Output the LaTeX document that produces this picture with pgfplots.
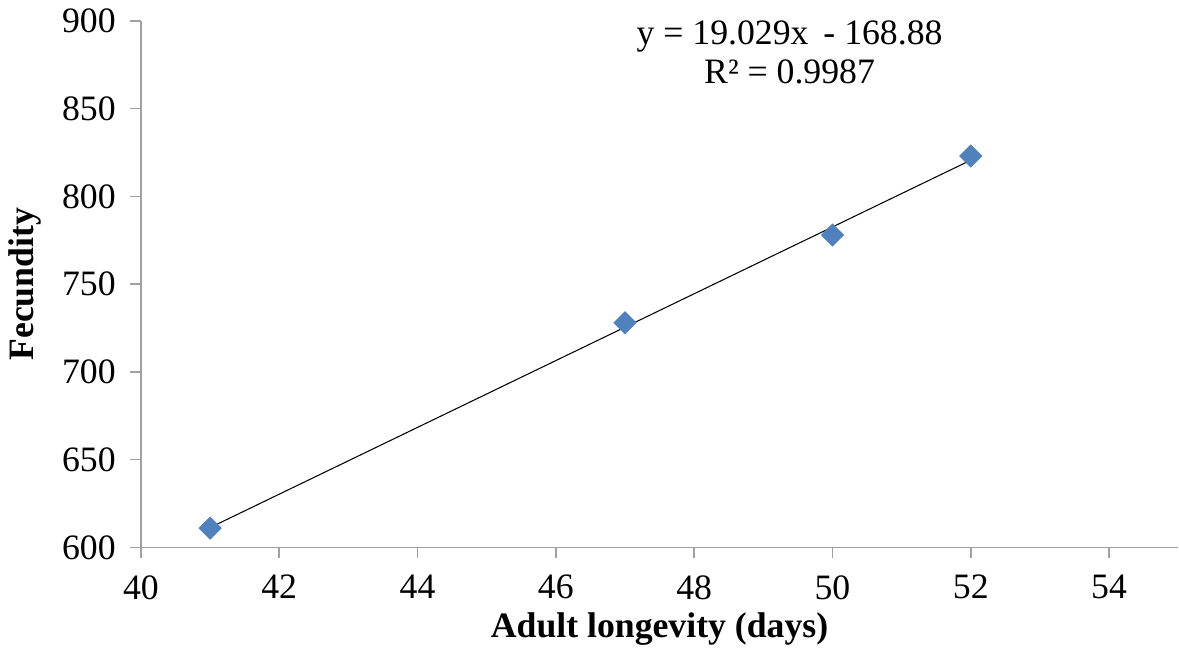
\documentclass[border=0pt]{standalone}
\usepackage{fontspec}
\setmainfont{Liberation Serif}
\usepackage{pgfplots}
\pgfplotsset{compat=1.18}
\definecolor{xlblue}{HTML}{4F81BD}
\definecolor{axgray}{HTML}{A0A0A0}
\begin{document}
\begin{tikzpicture}
\begin{axis}[
  scale only axis,
  width=392pt, height=199pt,
  xmin=40, xmax=55, ymin=600, ymax=900,
  xtick={40,42,...,54}, ytick={600,650,...,900},
  axis x line*=bottom, axis y line*=left,
  axis line style={axgray, line width=0.6pt},
  tick style={axgray, line width=0.6pt},
  tick align=outside, major tick length=4pt,
  tick label style={font=\fontsize{13.5}{15}\selectfont},
  yticklabel style={xshift=-2pt},
  xticklabel style={yshift=-3pt},
  /pgf/number format/assume math mode=true,
  /pgf/number format/1000 sep={},
  xlabel={\textbf{Adult longevity (days)}},
  ylabel={\textbf{Fecundity}},
  label style={font=\fontsize{13.5}{15}\selectfont},
  xlabel style={yshift=2pt},
  ylabel style={yshift=1pt},
  clip=false,
]
\addplot[black, line width=0.4pt] coordinates {(41,611.31) (52,820.63)};
\addplot[only marks, mark=square*, mark size=2.9pt,
  mark options={rotate=45, fill=xlblue, draw=xlblue}] coordinates {
  (41,611) (47,728) (50,778) (52,823)
};
\node[align=center, font=\fontsize{13.5}{14.5}\selectfont] at (axis cs:49.38,882)
  {y = 19.029x\, - 168.88\\R² = 0.9987};
\end{axis}
\end{tikzpicture}
\end{document}
